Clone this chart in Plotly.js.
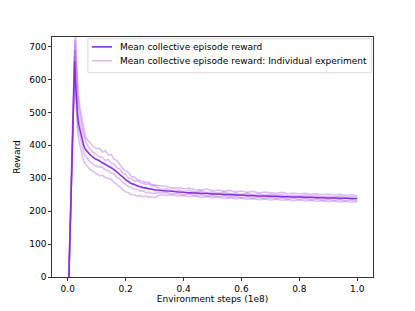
<!DOCTYPE html>
<html>
<head>
<meta charset="utf-8">
<script src="https://cdn.plot.ly/plotly-3.0.1.min.js"></script>
<style>html,body{margin:0;padding:0;background:#fff;}#chart{width:415px;height:311px;}</style>
</head>
<body>
<div id="chart"></div>
<script>
const steps = [0.003,0.024,0.027,0.03,0.034,0.038,0.042,0.046,0.05,0.055,0.06,0.065,0.07,0.075,0.08,0.085,0.09,0.095,0.1,
  0.11,0.12,0.13,0.14,0.15,0.16,0.17,0.18,0.19,0.2,0.21,0.22,0.23,0.24,0.25,0.26,0.27,0.28,0.29,0.3,
  0.32,0.34,0.36,0.38,0.4,0.42,0.44,0.46,0.48,0.5,0.52,0.54,0.56,0.58,0.6,0.62,0.64,0.66,0.68,0.7,
  0.72,0.74,0.76,0.78,0.8,0.82,0.84,0.86,0.88,0.9,0.92,0.94,0.96,0.98,1.0];

const meanReward = [-30,655,585,530,490,462,445,428,415,400,388,382,377,373,369,365,362,359,357,
  352,347,342,337,332,326,318,310,302,295,289,284,280,277,274,272,270,268,266,265,
  263,261,260,258,257,256,255,254,253,252,251,250,250,249,248,248,247,246,246,245,245,244,244,243,243,242,242,241,241,240,240,239,239,238,238];

const runA = [-30,740,760,660,590,545,515,495,470,450,430,420,415,408,402,400,396,392,390,
  391,379,384,371,372,358,354,342,330,322,318,305,304,296,294,290,286,288,281,280,
  276,275,270,272,268,270,266,264,267,262,264,260,263,259,261,257,260,255,258,256,254,257,253,255,252,254,251,253,250,252,249,251,248,250,247];
const runB = [-30,720,700,610,555,515,490,470,452,432,415,405,398,392,385,380,378,374,370,
  365,363,354,357,346,343,332,328,315,312,300,300,292,292,286,285,281,283,276,278,
  266,268,263,265,260,263,258,261,256,258,255,257,253,255,252,254,250,253,249,251,248,250,247,249,246,248,245,247,244,246,243,245,242,244,242];
const runC = [-30,690,640,560,510,478,458,438,422,405,392,386,380,374,370,366,362,358,356,
  355,345,346,335,337,325,322,310,305,293,292,282,283,275,276,270,272,266,268,262,
  262,259,262,256,259,254,257,252,255,250,253,248,251,247,250,246,249,244,247,243,246,242,245,241,244,240,243,239,242,238,241,237,240,236,238];
const runD = [-30,670,600,520,475,445,428,410,395,380,368,362,356,352,348,344,340,338,336,
  335,333,326,323,316,313,302,298,286,282,274,272,266,266,260,262,256,258,254,255,
  255,257,252,254,250,252,248,250,246,248,244,246,243,245,241,243,240,242,239,241,238,240,237,239,236,238,235,237,234,236,233,235,232,234,232];
const runE = [-30,640,560,480,440,415,398,382,368,352,345,338,332,328,325,322,318,316,314,
  307,309,302,299,296,288,282,274,266,258,256,250,250,246,247,244,246,242,244,241,
  250,248,250,246,248,244,246,242,244,241,243,239,241,238,240,236,238,235,237,234,236,233,235,232,234,231,233,230,232,229,231,228,230,227,229];

const runs = [runA, runB, runC, runD, runE];
const meanName = 'Mean collective episode reward';
const indName = 'Mean collective episode reward: Individual experiment';
const yTicks = [0,100,200,300,400,500,600,700];
const xTicks = [0,0.2,0.4,0.6,0.8,1.0];

const meanColor = '#8a2be2';
const indColor = 'rgba(138,43,226,0.3)';
const indLegendColor = '#dcbff6';

const traces = runs.map((r) => ({
  x: steps, y: r, type: 'scatter', mode: 'lines',
  name: indName, showlegend: false,
  line: {color: indColor, width: 1.6}
}));
traces.push({
  x: steps, y: meanReward, type: 'scatter', mode: 'lines',
  name: meanName, showlegend: false,
  line: {color: meanColor, width: 1.4}
});

const axisCommon = {
  showline: true, linecolor: '#000', linewidth: 0.8, mirror: true,
  ticks: 'outside', ticklen: 3, tickwidth: 0.8, tickcolor: '#000',
  showgrid: false, zeroline: false,
  tickfont: {size: 9, color: '#000'}
};

// legend drawn as a box with line samples and text labels
const legendEntries = [
  {label: meanName, color: meanColor, y: 0.959},
  {label: indName, color: indLegendColor, y: 0.901}
];
const shapes = [{
  type: 'rect', xref: 'paper', yref: 'paper',
  x0: 0.112, x1: 0.995, y0: 0.851, y1: 0.993,
  line: {color: '#d0d0d0', width: 0.8}, fillcolor: 'rgba(255,255,255,0.8)', layer: 'above'
}];
const annotations = [];
legendEntries.forEach(e => {
  shapes.push({type: 'line', xref: 'paper', yref: 'paper', x0: 0.124, x1: 0.187, y0: e.y, y1: e.y,
    line: {color: e.color, width: 1.6}, layer: 'above'});
  annotations.push({xref: 'paper', yref: 'paper', x: 0.207, y: e.y, xanchor: 'left', yanchor: 'middle',
    text: e.label, showarrow: false, font: {size: 9, color: '#000'}});
});

const layout = {
  width: 415, height: 311,
  margin: {l: 52, r: 41.5, t: 37.3, b: 34.2},
  paper_bgcolor: '#fff', plot_bgcolor: '#fff',
  font: {family: 'DejaVu Sans', size: 9, color: '#000'},
  showlegend: false,
  shapes: shapes,
  annotations: annotations,
  xaxis: Object.assign({}, axisCommon, {
    range: [-0.0544, 1.0544], tickvals: xTicks, tickformat: '.1f',
    title: {text: 'Environment steps (1e8)', font: {size: 9}, standoff: 2}
  }),
  yaxis: Object.assign({}, axisCommon, {
    range: [0, 729], tickvals: yTicks,
    title: {text: 'Reward', font: {size: 9}, standoff: 6}
  })
};

Plotly.newPlot('chart', traces, layout, {displayModeBar: false, staticPlot: true});
</script>
</body>
</html>
